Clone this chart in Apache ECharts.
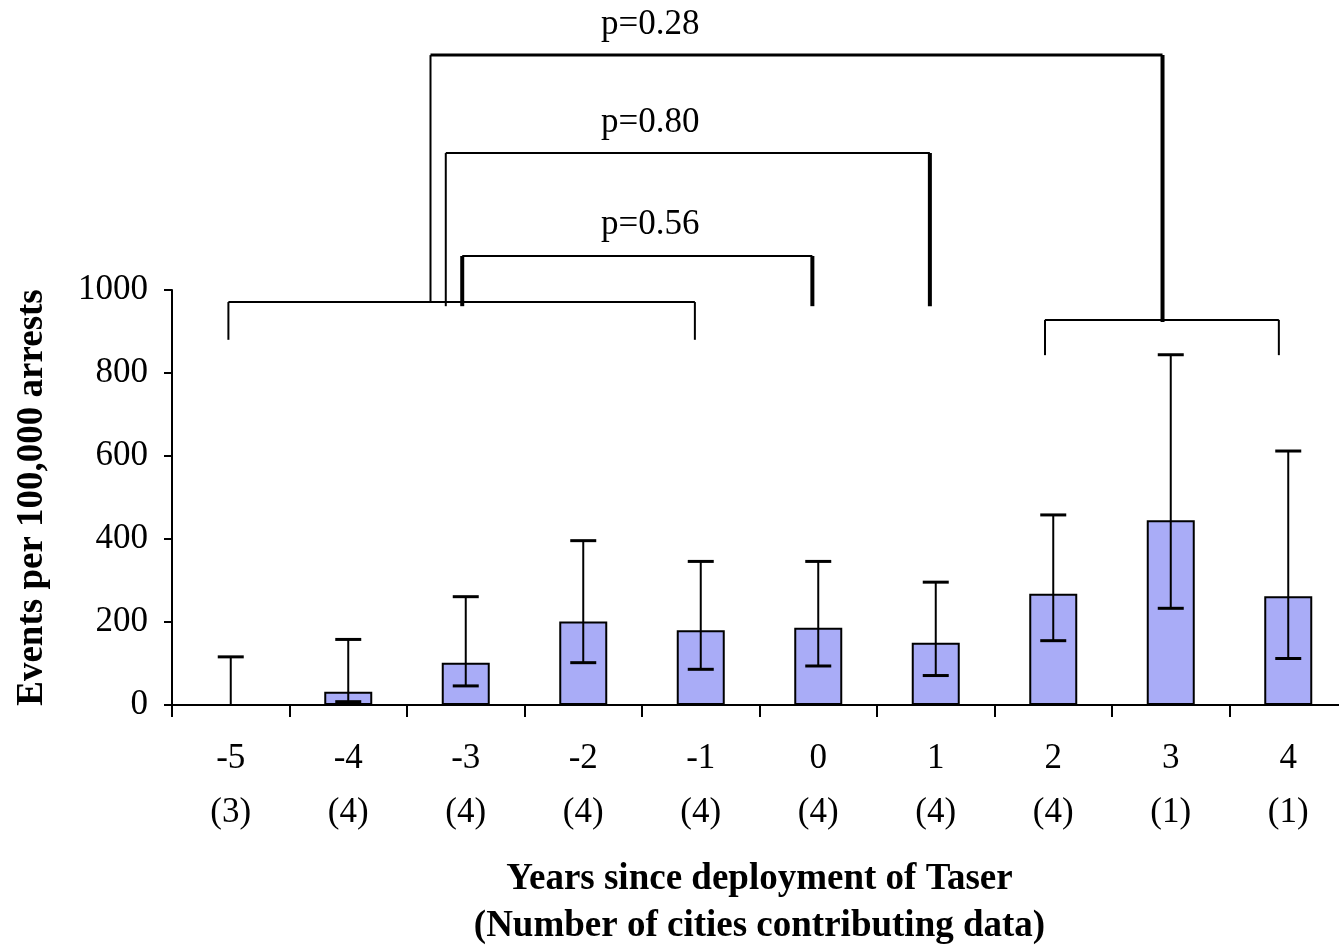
<!DOCTYPE html>
<html>
<head>
<meta charset="utf-8">
<script src="https://cdn.jsdelivr.net/npm/echarts@6/dist/echarts.min.js"></script>
<style>
html,body{margin:0;padding:0;background:#fff;}
#chart{width:1339px;height:945px;}
</style>
</head>
<body>
<div id="chart"></div>
<script>
// ---- data ----
const years = ['-5','-4','-3','-2','-1','0','1','2','3','4'];
const cityCounts = ['(3)','(4)','(4)','(4)','(4)','(4)','(4)','(4)','(1)','(1)'];
const meanRates = [0, 32, 102, 201, 180, 186, 150, 268, 445, 262];
const errLow  = [0, 8, 46, 102, 86, 94, 71, 155, 233, 112];
const errHigh = [116, 158, 261, 396, 346, 346, 296, 458, 844, 612];
const yTicks = [0, 200, 400, 600, 800, 1000];
// group brackets: [xLeft, xRight, yBar, yLegEnd] in (category index, value) units
const groupBrackets = [
  [-0.02, 3.95, 971, 880],
  [6.93, 8.92, 928, 843]
];
// comparison brackets: [xLeft, xRight, yBar, yLeftEnd, yRightEnd]
const compareBrackets = [
  [1.97, 4.95, 1082, 961, 961],
  [1.83, 5.95, 1330, 961, 961],
  [1.70, 7.93, 1566, 969, 923]
];
const pLabels = ['p=0.56', 'p=0.80', 'p=0.28'];
const pLabelPos = [[3.57, 1157], [3.57, 1402], [3.57, 1640]];

// ---- chart ----
const FONT = 'Liberation Serif';
const chart = echarts.init(document.getElementById('chart'), null, {renderer: 'canvas'});

const errData = years.map((y, i) => [i, errLow[i], errHigh[i]]);
const groupData = groupBrackets.map(b => b.slice());
const cmpData = compareBrackets.map((b, i) => b.concat([i]));
const labelData = pLabelPos.map((p, i) => [p[0], p[1], i]);

function line(x1, y1, x2, y2, w) {
  return {type: 'line', shape: {x1, y1, x2, y2}, style: {stroke: '#000', lineWidth: w}};
}

chart.setOption({
  animation: false,
  backgroundColor: '#fff',
  grid: {left: 172, right: -8, top: 290, bottom: 240, containLabel: false, outerBoundsMode: 'none'},
  xAxis: [{
    type: 'category',
    data: years,
    boundaryGap: true,
    axisLine: {onZero: false, lineStyle: {color: '#000', width: 2}},
    axisTick: {show: true, length: 12, inside: false, alignWithLabel: false, lineStyle: {color: '#000', width: 2}},
    axisLabel: {
      color: '#000', fontFamily: FONT, fontSize: 35, lineHeight: 54, margin: 27,
      formatter: (v, i) => v + '\n' + cityCounts[i]
    },
    splitLine: {show: false},
    name: 'Years since deployment of Taser\n(Number of cities contributing data)',
    nameLocation: 'middle',
    nameGap: 151,
    nameTextStyle: {color: '#000', fontFamily: FONT, fontWeight: 'bold', fontSize: 37, lineHeight: 47}
  }, {
    type: 'value', min: -0.5, max: 9.5, show: false
  }],
  yAxis: {
    type: 'value', min: 0, max: 1000, interval: 200,
    axisLine: {show: true, onZero: false, lineStyle: {color: '#000', width: 2}},
    axisTick: {show: true, length: 8, lineStyle: {color: '#000', width: 2}},
    axisLabel: {color: '#000', fontFamily: FONT, fontSize: 35, margin: 24,
      formatter: v => yTicks.indexOf(v) >= 0 ? String(v) : ''},
    splitLine: {show: false},
    name: 'Events per 100,000 arrests',
    nameLocation: 'middle',
    nameRotate: 90,
    nameGap: 121,
    nameTextStyle: {color: '#000', fontFamily: FONT, fontWeight: 'bold', fontSize: 37}
  },
  series: [{
    type: 'bar',
    data: meanRates,
    barWidth: 48,
    itemStyle: {color: '#a9acf7', borderColor: '#000', borderWidth: 2}
  }, {
    type: 'custom',
    xAxisIndex: 1,
    data: errData,
    clip: false,
    z: 5,
    renderItem: (params, api) => {
      const x = api.value(0);
      const lo = api.coord([x, api.value(1)]);
      const hi = api.coord([x, api.value(2)]);
      const c = 13;
      const kids = [
        line(hi[0], hi[1], lo[0], lo[1], 2),
        line(hi[0] - c, hi[1], hi[0] + c, hi[1], 3)
      ];
      if (api.value(1) > 0) kids.push(line(lo[0] - c, lo[1], lo[0] + c, lo[1], 3));
      return {type: 'group', children: kids};
    }
  }, {
    type: 'custom',
    xAxisIndex: 1,
    data: groupData,
    clip: false,
    z: 6,
    renderItem: (params, api) => {
      const a = api.coord([api.value(0), api.value(2)]);
      const b = api.coord([api.value(1), api.value(2)]);
      const aEnd = api.coord([api.value(0), api.value(3)]);
      const bEnd = api.coord([api.value(1), api.value(3)]);
      return {type: 'group', children: [
        line(a[0], a[1], b[0], b[1], 2),
        line(a[0], a[1], aEnd[0], aEnd[1], 2),
        line(b[0], b[1], bEnd[0], bEnd[1], 2)
      ]};
    }
  }, {
    type: 'custom',
    xAxisIndex: 1,
    data: cmpData,
    clip: false,
    z: 6,
    renderItem: (params, api) => {
      const idx = api.value(5);
      const a = api.coord([api.value(0), api.value(2)]);
      const b = api.coord([api.value(1), api.value(2)]);
      const aEnd = api.coord([api.value(0), api.value(3)]);
      const bEnd = api.coord([api.value(1), api.value(4)]);
      const topW = idx === 2 ? 3 : 2;
      const leftW = idx === 0 ? 4 : 2;
      return {type: 'group', children: [
        line(a[0], a[1], b[0], b[1], topW),
        line(a[0], a[1], aEnd[0], aEnd[1], leftW),
        line(b[0], b[1], bEnd[0], bEnd[1], 4)
      ]};
    }
  }, {
    type: 'custom',
    xAxisIndex: 1,
    data: labelData,
    clip: false,
    z: 7,
    renderItem: (params, api) => {
      const p = api.coord([api.value(0), api.value(1)]);
      return {type: 'text', x: p[0], y: p[1], style: {
        text: pLabels[api.value(2)], fill: '#000', fontFamily: FONT, fontSize: 35,
        align: 'center', verticalAlign: 'middle'
      }};
    }
  }]
});
</script>
</body>
</html>
